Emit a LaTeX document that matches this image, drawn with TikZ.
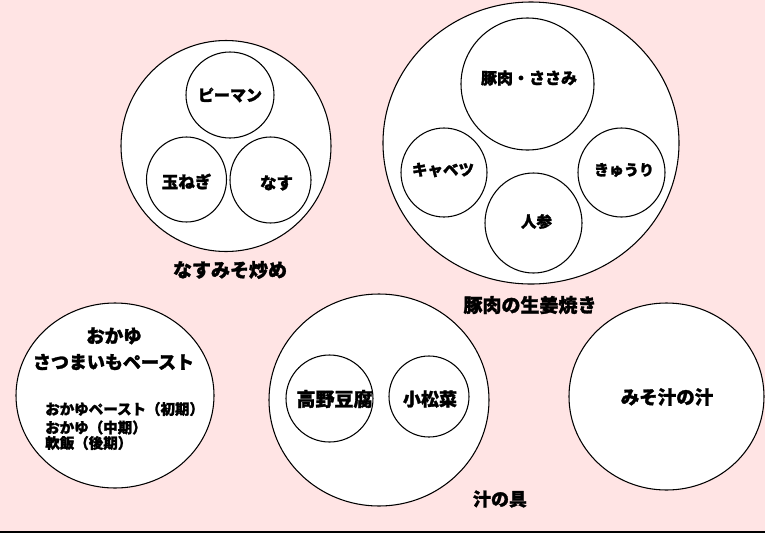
\documentclass[tikz,border=0pt]{standalone}
\usepackage{fontspec}
\setmainfont{Noto Sans CJK JP}[BoldFeatures={FakeBold=1.6}]
\usetikzlibrary{shapes.geometric}
\definecolor{bgpink}{RGB}{255,228,228}
\definecolor{baseline}{RGB}{77,68,51}
\tikzset{
  circ/.style={draw=black, ellipse, fill=white, inner sep=0pt, outer sep=0pt, line width=0.8pt},
  sz/.style 2 args={minimum width={#1*1.5pt}, minimum height={#2*1.5pt}},
  txt/.style={inner sep=0pt, font=\bfseries\fontsize{\dimexpr #1pt*3/4\relax}{\dimexpr #1pt*9/10\relax}\selectfont},
  txt/.default=16
}
\begin{document}
\begin{tikzpicture}[x=0.75pt, y=-0.75pt]
\fill[bgpink] (0,0) rectangle (765,533);
\useasboundingbox (0,0) rectangle (765,533);
\draw[baseline, line width=1.2pt] (0,532) -- (765,532);

% なすみそ炒め
\node[circ, sz={105}{105.5}] (nasuO) at (226,146) {};
\node[circ, sz={44}{43}] (piman) at (230,95) {};
\node[circ, sz={40}{42.5}] (tamanegi) at (186.5,179.5) {};
\node[circ, sz={40.5}{43}] (nasu) at (270.5,180) {};
\node[txt=16] (tpiman) at (230,95) {ピーマン};
\node[txt=16.5] (ttamanegi) at (186.5,181.5) {玉ねぎ};
\node[txt=16.5] (tnasu) at (276.5,183) {なす};
\node[txt=19] (tnasuO) at (230,270) {なすみそ炒め};

% 豚肉の生姜焼き
\node[circ, sz={148}{141}] (tonO) at (531,143) {};
\node[circ, sz={66.5}{66}] (buta) at (527.5,84) {};
\node[circ, sz={43}{44.5}] (cabbage) at (444,172.5) {};
\node[circ, sz={48.5}{50}] (ninjin) at (533.5,223) {};
\node[circ, sz={43.5}{44.5}] (kyuri) at (621.5,172.5) {};
\node[txt=16] (tbuta) at (529,78) {豚肉・ささみ};
\node[txt=15.5] (tcabbage) at (443,170) {キャベツ};
\node[txt=15.5] (tninjin) at (536.5,221.5) {人参};
\node[txt=15] (tkyuri) at (624,170) {きゅうり};
\node[txt=19] (ttonO) at (530,305) {豚肉の生姜焼き};

% おかゆ
\node[circ, sz={99}{92.5}] (okayu) at (115,395.5) {};
\node[txt=18.5] (tokayu1) at (114,336) {おかゆ};
\node[txt=18] (tokayu2) at (113.5,362) {さつまいもペースト};
\node[txt=14.5, anchor=west] (tokayu3) at (45,409) {おかゆペースト（初期）};
\node[txt=14.5, anchor=west] (tokayu4) at (45,427.5) {おかゆ（中期）};
\node[txt=14.5, anchor=west] (tokayu5) at (45,443) {軟飯（後期）};

% 汁の具
\node[circ, sz={110}{106}] (guO) at (379,400) {};
\node[circ, sz={43.5}{43.5}] (koya) at (329.5,398.5) {};
\node[circ, sz={40}{40.5}] (komatsuna) at (429,396.5) {};
\node[txt=19] (tkoya) at (334.5,399) {高野豆腐};
\node[txt=18] (tkomatsuna) at (430,399) {小松菜};
\node[txt=18] (tguO) at (500,499) {汁の具};

% みそ汁の汁
\node[circ, sz={97.5}{93.5}] (miso) at (666.5,396.5) {};
\node[txt=18.5] (tmiso) at (667,397) {みそ汁の汁};
\end{tikzpicture}
\end{document}
